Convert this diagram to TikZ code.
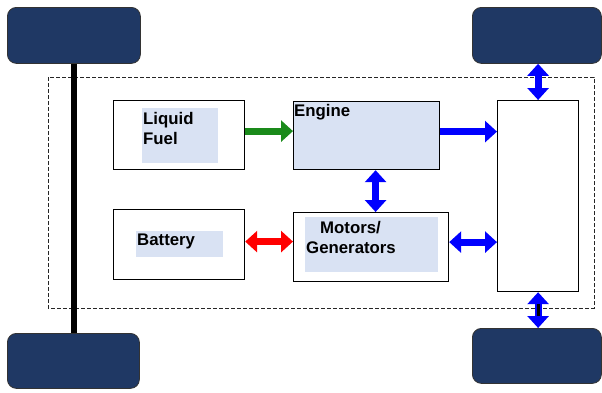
\documentclass[tikz,border=0pt]{standalone}
\usepackage{fontspec}
\setmainfont{Liberation Sans}
\usetikzlibrary{arrows.meta}
\definecolor{wheelblue}{HTML}{1F3864}
\definecolor{hl}{HTML}{D9E2F3}
\definecolor{arrgreen}{HTML}{1A8A1A}
\begin{document}
\begin{tikzpicture}[x=1pt,y=-1pt,
 wheel/.style={draw=black!80, line width=0.8pt, fill=wheelblue, rounded corners=9pt, anchor=north west, inner sep=0},
 box/.style={draw=black, line width=1.2pt, fill=white, anchor=north west, inner sep=0},
 hlbox/.style={fill=hl, anchor=north west, inner sep=0},
 lbl/.style={font=\bfseries\fontsize{16.8}{20}\selectfont, anchor=north west, inner sep=0, align=left},
 fat/.style={line width=7pt, -{Triangle[length=12pt,width=21pt]}},
 fatboth/.style={line width=7pt, {Triangle[length=12pt,width=21pt]}-{Triangle[length=12pt,width=21pt]}}
]
\useasboundingbox (0,0) rectangle (602,392);
% wheels
\node[wheel, minimum width=133pt, minimum height=56pt] (wtl) at (7,7) {};
\node[wheel, minimum width=129pt, minimum height=56pt] (wtr) at (472,7) {};
\node[wheel, minimum width=132pt, minimum height=55pt] (wbl) at (7,333) {};
\node[wheel, minimum width=129pt, minimum height=55pt] (wbr) at (472,328) {};
% chassis
\draw[dash pattern=on 4pt off 2pt, line width=0.9pt, draw=black!85] (48,77) rectangle (594,308);
\draw[line width=6pt] (wtl.south) -- (wtl.south |- wbl.north);
% boxes
\node[box, minimum width=131pt, minimum height=69pt] (fuel) at (113,100) {};
\node[box, fill=hl, minimum width=146pt, minimum height=68pt] (engine) at (293,101) {};
\node[box, minimum width=81pt, minimum height=191pt] (rbox) at (497,100) {};
\node[box, minimum width=131pt, minimum height=70pt] (battery) at (113,209) {};
\node[box, minimum width=155pt, minimum height=69pt] (motors) at (293,212) {};
% highlights
\node[hlbox, minimum width=76pt, minimum height=55pt] (fuelhl) at (142,108) {};
\node[hlbox, minimum width=87pt, minimum height=26pt] (battl) at (136,231) {};
\node[hlbox, minimum width=133pt, minimum height=55pt] (mothl) at (305,217) {};
% labels
\node[lbl] (tfuel) at (143,112) {Liquid\\Fuel};
\node[lbl] (teng) at (294,104) {Engine};
\node[lbl] (tbat) at (137,234) {Battery};
\node[lbl] (tmot1) at (320,221) {Motors/};
\node[lbl] (tmot2) at (306,242) {Generators};
% arrows
\draw[fat, arrgreen] ([yshift=4pt]fuel.east) -- ([yshift=4pt]fuel.east -| engine.west);
\draw[fat, blue] ([yshift=4pt]engine.east) -- ([yshift=4pt]engine.east -| rbox.west);
\draw[fatboth, blue] ([xshift=9pt]engine.south) -- ([xshift=9pt]engine.south |- motors.north);
\draw[fatboth, red] ([yshift=3pt]battery.east) -- ([yshift=3pt]battery.east -| motors.west);
\draw[fatboth, blue] ([yshift=5pt]motors.east) -- ([yshift=5pt]motors.east -| rbox.west);
\draw[fatboth, blue] (wtr.south -| rbox.north) -- (rbox.north);
\draw[fatboth, blue] (rbox.south) -- (rbox.south |- wbr.north);
\draw[line width=3pt] ([yshift=-12pt]rbox.south) -- ([yshift=12pt]rbox.south |- wbr.north);
\end{tikzpicture}
\end{document}
